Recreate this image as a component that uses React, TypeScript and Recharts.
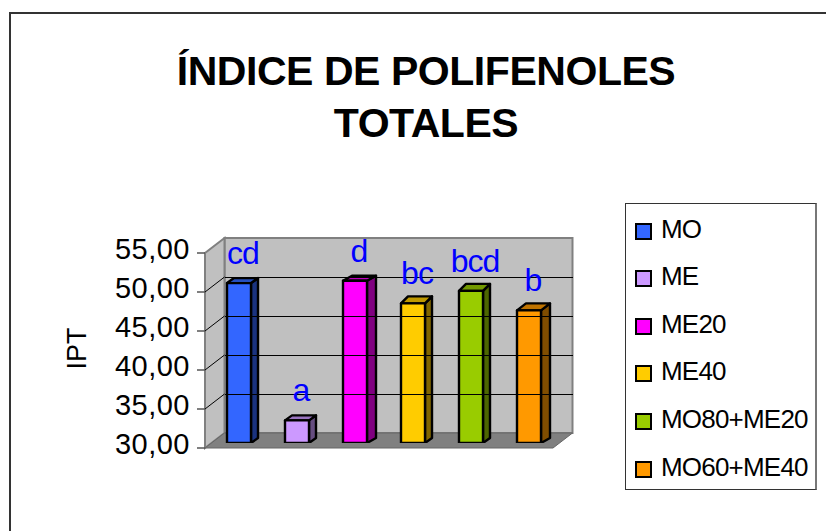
import React from 'react';
import { BarChart, Bar, XAxis, YAxis, Legend, ReferenceArea, ReferenceLine, LabelList } from 'recharts';

const seriesNames = ['MO', 'ME', 'ME20', 'ME40', 'MO80+ME20', 'MO60+ME40'];
const seriesValues = [50.5, 32.9, 50.8, 47.9, 49.5, 47.0];
const seriesColors = ['#3366FF', '#CC99FF', '#FF00FF', '#FFCC00', '#99CC00', '#FF9900'];
const sideColors = ['#1A3380', '#664D80', '#800080', '#806600', '#4D6600', '#804D00'];
const topColors = ['#2650BF', '#9973BF', '#BF00BF', '#BF9900', '#739900', '#BF7300'];
const letters = ['cd', 'a', 'd', 'bc', 'bcd', 'b'];
const yTicks = [30, 35, 40, 45, 50, 55];
const gridValues = [35, 40, 45, 50];
const titleLines = ['ÍNDICE DE POLIFENOLES', 'TOTALES'];
const yTitle = 'IPT';

const row: Record<string, number | string> = { name: 'IPT' };
seriesNames.forEach((n, i) => { row[n] = seriesValues[i]; });
const data = [row];

const BACK = { dx: 14.5, dy: -10 };
const FRONT = { dx: -5, dy: 5 };

const Walls = (p: any) => {
  const { x, y, width: w, height: h } = p;
  const fx = x + FRONT.dx, bx = x + BACK.dx;
  const ty = y, by = y + h;
  return (
    <g>
      <polygon points={`${bx},${ty + BACK.dy} ${bx + w},${ty + BACK.dy} ${bx + w},${by + BACK.dy} ${bx},${by + BACK.dy}`} fill="#C0C0C0" stroke="#808080" strokeWidth={2} />
      <polygon points={`${fx},${ty + FRONT.dy} ${bx},${ty + BACK.dy} ${bx},${by + BACK.dy} ${fx},${by + FRONT.dy}`} fill="#C0C0C0" stroke="#808080" strokeWidth={2} />
      <polygon points={`${fx},${by + FRONT.dy} ${bx},${by + BACK.dy} ${bx + w},${by + BACK.dy} ${fx + w},${by + FRONT.dy}`} fill="#808080" stroke="#666666" strokeWidth={1} />
    </g>
  );
};

const GridShape = (p: any) => {
  const { x1, x2, y1 } = p;
  const xa = Math.min(x1, x2);
  const xb = Math.max(x1, x2);
  return (
    <g>
      <line x1={xa + FRONT.dx} y1={y1 + FRONT.dy} x2={xa + BACK.dx} y2={y1 + BACK.dy} stroke="#000" strokeWidth={1} />
      <line x1={xa + BACK.dx} y1={y1 + BACK.dy} x2={xb + BACK.dx} y2={y1 + BACK.dy} stroke="#000" strokeWidth={1} shapeRendering="crispEdges" />
    </g>
  );
};

const Bar3D = (i: number) => (p: any) => {
  const { x, y, width: w, height: h } = p;
  const d = i === 2 || i === 5 ? 9 : 7;
  const e = i >= 3 ? 7 : 5;
  return (
    <g stroke="#000" strokeWidth={2.4} strokeLinejoin="round">
      <polygon points={`${x + w},${y} ${x + w + d},${y - e} ${x + w + d},${y + h - 5} ${x + w},${y + h}`} fill={sideColors[i]} />
      <polygon points={`${x},${y} ${x + d},${y - e} ${x + w + d},${y - e} ${x + w},${y}`} fill={topColors[i]} />
      <rect x={x} y={y} width={w} height={h} fill={seriesColors[i]} />
    </g>
  );
};

const Letter = (i: number) => (p: any) => {
  const { x, y, width: w } = p;
  return (
    <text x={x + w / 2 + 4} y={y - 19} textAnchor="middle" fill="#0000FF" fontSize={32} letterSpacing={-1} fontFamily="Liberation Sans">
      {letters[i]}
    </text>
  );
};

const YTick = (p: any) => {
  const { y, payload } = p;
  const txt = payload.value.toFixed(2).replace('.', ',');
  return (
    <g>
      <line x1={197} x2={205} y1={y + FRONT.dy} y2={y + FRONT.dy} stroke="#555" strokeWidth={1.5} />
      <text x={190} y={y + 11} textAnchor="end" fontSize={29} letterSpacing={0.5} fill="#000" fontFamily="Liberation Sans">{txt}</text>
    </g>
  );
};

const YLabel = (p: any) => {
  const vb = p.viewBox;
  const cy = vb.y + vb.height / 2 + 3;
  return (
    <text transform={`translate(86,${cy}) rotate(-90)`} textAnchor="middle" fontSize={27} fill="#000" fontFamily="Liberation Sans">{yTitle}</text>
  );
};

const LegendBox = (p: any) => {
  const items = [...(p.payload || [])].sort((a: any, b: any) => seriesNames.indexOf(a.value) - seriesNames.indexOf(b.value));
  return (
    <div style={{ position: 'relative', width: 192, height: 287, boxSizing: 'border-box', border: '1px solid #333', borderRightColor: '#777', borderRightWidth: 2, background: '#fff', fontFamily: 'Liberation Sans' }}>
      {items.map((it: any, i: number) => (
        <div key={it.value} style={{ position: 'absolute', left: 9, top: 7 + i * 47.6, height: 36, display: 'flex', alignItems: 'center' }}>
          <span style={{ width: 17, height: 17, boxSizing: 'border-box', border: '2.5px solid #000', background: it.color, display: 'inline-block', marginRight: 9, marginTop: 4 }} />
          <span style={{ fontSize: 26, letterSpacing: -0.8, color: '#000', whiteSpace: 'nowrap' }}>{it.value}</span>
        </div>
      ))}
    </div>
  );
};

export default function App() {
  return (
    <div style={{ position: 'absolute', left: 0, top: 0, width: 826, height: 531, background: '#fff', overflow: 'hidden' }}>
      <div style={{ position: 'absolute', left: 9, top: 12, width: 830, height: 530, borderLeft: '2px solid #333', borderTop: '2px solid #333' }} />
      {titleLines.map((t, i) => (
        <div key={t} style={{ position: 'absolute', left: 0, width: 852, top: 47 + i * 52, lineHeight: '48px', textAlign: 'center', fontFamily: 'Liberation Sans', fontWeight: 700, fontSize: 41, letterSpacing: -0.45, color: '#000' }}>{t}</div>
      ))}
      <BarChart width={826} height={531} data={data} margin={{ top: 248, right: 268, bottom: 88, left: 0 }} barCategoryGap={0} barGap={34} barSize={24} style={{ position: 'absolute', left: 0, top: 0 }}>
        <XAxis dataKey="name" hide />
        <YAxis width={210} domain={[30, 55]} ticks={yTicks} tick={YTick} tickLine={false} axisLine={false} interval={0} allowDataOverflow label={{ content: YLabel }} />
        <ReferenceArea y1={30} y2={55} shape={Walls} ifOverflow="visible" />
        {gridValues.map((v) => (
          <ReferenceLine key={v} y={v} shape={GridShape} ifOverflow="visible" />
        ))}
        <Legend layout="vertical" align="center" verticalAlign="middle" content={LegendBox} wrapperStyle={{ position: 'absolute', left: 625, top: 203, width: 192, height: 287 }} />
        {seriesNames.map((n, i) => (
          <Bar key={n} dataKey={n} name={n} fill={seriesColors[i]} isAnimationActive={false} shape={Bar3D(i)}>
            <LabelList dataKey={n} content={Letter(i)} />
          </Bar>
        ))}
      </BarChart>
    </div>
  );
}
